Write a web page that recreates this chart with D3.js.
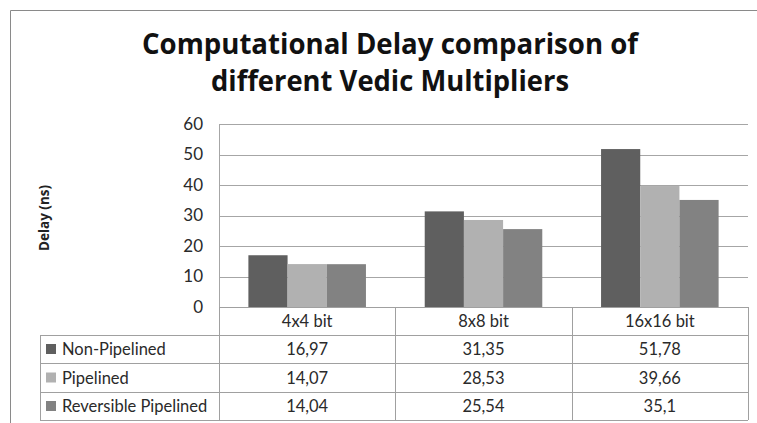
<!DOCTYPE html>
<html>
<head>
<meta charset="utf-8">
<script src="https://cdn.jsdelivr.net/npm/d3@7"></script>
<style>
  html, body { margin: 0; padding: 0; background: #fff; }
  svg { display: block; }
</style>
</head>
<body>
<svg id="chart" width="757" height="423"></svg>
<script>
const categories = ["4x4 bit", "8x8 bit", "16x16 bit"];
const seriesNames = ["Non-Pipelined", "Pipelined", "Reversible Pipelined"];
const nonPipelined = [16.97, 31.35, 51.78];
const pipelined = [14.07, 28.53, 39.66];
const reversiblePipelined = [14.04, 25.54, 35.1];
const seriesLabels = [
  ["16,97", "31,35", "51,78"],
  ["14,07", "28,53", "39,66"],
  ["14,04", "25,54", "35,1"]
];
const yTicks = [0, 10, 20, 30, 40, 50, 60];
const colors = ["#5f5f5f", "#b1b1b1", "#828282"];
const titleLines = ["Computational Delay comparison of", "different Vedic Multipliers"];
const yTitle = "Delay (ns)";

const series = [nonPipelined, pipelined, reversiblePipelined];
const svg = d3.select("#chart");
const font = "Lato, 'Open Sans', sans-serif";

// chart border
svg.append("path").attr("d", "M10.5,423 V10.5 H757")
  .attr("fill", "none").attr("stroke", "#8a8a8a").attr("stroke-width", 1);

const plot = { left: 219, right: 748, top: 124, bottom: 307 };
const x = d3.scaleBand().domain(categories).range([plot.left, plot.right]).paddingInner(0).paddingOuter(0);
const inner = d3.scaleBand().domain(d3.range(3)).range([0, x.bandwidth()]).paddingOuter(0.75).paddingInner(0);
const y = d3.scaleLinear().domain([0, 60]).range([plot.bottom, plot.top]);

// gridlines
svg.append("g").selectAll("line").data(yTicks.filter(d => d > 0)).join("line")
  .attr("x1", plot.left).attr("x2", plot.right)
  .attr("y1", d => Math.round(y(d)) + 0.5).attr("y2", d => Math.round(y(d)) + 0.5)
  .attr("stroke", "#a6a6a6").attr("stroke-width", 1);

// left axis line
svg.append("line").attr("x1", plot.left + 0.5).attr("x2", plot.left + 0.5)
  .attr("y1", plot.top).attr("y2", plot.bottom).attr("stroke", "#a6a6a6");

// tick labels
const yAxis = d3.axisLeft(y).tickValues(yTicks).tickSize(0).tickPadding(16);
const ga = svg.append("g").attr("transform", `translate(${plot.left},0)`).call(yAxis);
ga.select(".domain").remove();
ga.selectAll("text").attr("font-family", font).attr("font-size", 17).attr("fill", "#2a2a2a");

// bars
series.forEach((vals, si) => {
  svg.append("g").selectAll("rect").data(vals).join("rect")
    .attr("x", (d, i) => x(categories[i]) + inner(si))
    .attr("width", inner.bandwidth())
    .attr("y", d => y(d))
    .attr("height", d => y(0) - y(d))
    .attr("fill", colors[si]);
});

// title
svg.append("g").selectAll("text").data(titleLines).join("text")
  .attr("x", 390).attr("y", (d, i) => 54 + i * 37)
  .attr("text-anchor", "middle")
  .attr("font-family", "'Open Sans', sans-serif").attr("font-weight", "bold").attr("font-size", 29)
  .attr("fill", "#111")
  .attr("textLength", (d, i) => i === 0 ? 496 : 358)
  .attr("lengthAdjust", "spacingAndGlyphs")
  .text(d => d);

// y title
svg.append("text")
  .attr("transform", `translate(49,218) rotate(-90)`)
  .attr("text-anchor", "middle")
  .attr("font-family", "'Open Sans', sans-serif").attr("font-weight", "bold").attr("font-size", 14)
  .attr("fill", "#222")
  .attr("textLength", 66).attr("lengthAdjust", "spacingAndGlyphs")
  .text(yTitle);

// data table
const tbl = svg.append("g");
const rowY = [307, 335, 363, 392, 420];
const tableLeft = 40;
const lineColor = "#a0a0a0";
tbl.append("line").attr("x1", plot.left).attr("x2", plot.right).attr("y1", rowY[0] + 0.5).attr("y2", rowY[0] + 0.5).attr("stroke", lineColor);
rowY.slice(1).forEach(yy => {
  tbl.append("line").attr("x1", tableLeft).attr("x2", plot.right).attr("y1", yy + 0.5).attr("y2", yy + 0.5).attr("stroke", lineColor);
});
tbl.append("line").attr("x1", tableLeft + 0.5).attr("x2", tableLeft + 0.5).attr("y1", rowY[1]).attr("y2", rowY[4]).attr("stroke", lineColor);
categories.forEach(c => {
  tbl.append("line").attr("x1", Math.round(x(c)) + 0.5).attr("x2", Math.round(x(c)) + 0.5)
    .attr("y1", rowY[0]).attr("y2", rowY[4]).attr("stroke", lineColor);
});
tbl.append("line").attr("x1", plot.right + 0.5).attr("x2", plot.right + 0.5).attr("y1", rowY[0]).attr("y2", rowY[4]).attr("stroke", lineColor);

const fs = 16.5;
tbl.selectAll("text.cat").data(categories).join("text").attr("class", "cat")
  .attr("x", d => x(d) + x.bandwidth() / 2).attr("y", (rowY[0] + rowY[1]) / 2 + 6)
  .attr("text-anchor", "middle").attr("font-family", font).attr("font-size", fs).attr("fill", "#2a2a2a")
  .text(d => d);

seriesNames.forEach((name, si) => {
  const cy = (rowY[si + 1] + rowY[si + 2]) / 2;
  tbl.append("rect").attr("x", 46).attr("y", cy - 5).attr("width", 10).attr("height", 10).attr("fill", colors[si]);
  tbl.append("text").attr("x", 62).attr("y", cy + 6)
    .attr("font-family", font).attr("font-size", fs).attr("fill", "#2a2a2a").text(name);
  tbl.selectAll(null).data(seriesLabels[si]).join("text")
    .attr("x", (d, i) => x(categories[i]) + x.bandwidth() / 2).attr("y", cy + 6)
    .attr("text-anchor", "middle").attr("font-family", font).attr("font-size", fs).attr("fill", "#2a2a2a")
    .text(d => d);
});
</script>
</body>
</html>
